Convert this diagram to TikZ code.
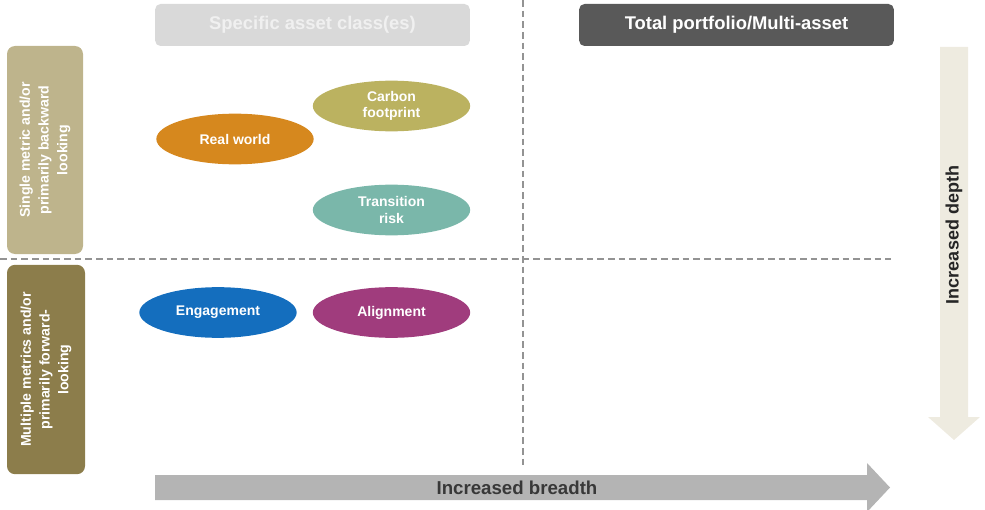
\documentclass[tikz,border=0pt]{standalone}
\usepackage{fontspec}
\setmainfont{Liberation Sans}
\usetikzlibrary{shapes.geometric}
\definecolor{hdLight}{HTML}{D9D9D9}
\definecolor{hdDark}{HTML}{595959}
\definecolor{rowTop}{HTML}{BEB48C}
\definecolor{rowBot}{HTML}{8C7D4B}
\definecolor{myOrange}{HTML}{D6881E}
\definecolor{myOlive}{HTML}{BBB260}
\definecolor{myTeal}{HTML}{7AB7AA}
\definecolor{myBlue}{HTML}{146EBE}
\definecolor{myPlum}{HTML}{A03C7D}
\definecolor{arrGray}{HTML}{B4B4B4}
\definecolor{arrBeige}{HTML}{EEEBE0}

\begin{document}
\begin{tikzpicture}[x = 0.75pt, y = -0.75pt,
		hd/.style = {rounded corners = 4pt, minimum width = 236pt, minimum height = 31.5pt, inner sep = 0pt, font = \fontsize{13.8}{15}\selectfont\bfseries},
		row/.style = {rounded corners = 6pt, rotate = 90, align = center, inner sep = 0pt, text = white, minimum width = 156pt, minimum height = 57pt, font = \fontsize{10.6}{14}\selectfont\bfseries},
		blob/.style = {ellipse, minimum width = 118pt, minimum height = 38pt, inner sep = 0pt, align = center, text = white, font = \fontsize{10.5}{12.5}\selectfont\bfseries},
		grid/.style = {gray!85, line width = 0.8pt, dash pattern = on 5pt off 3pt}]
		\useasboundingbox (0, 0) rectangle (985, 510);
		%%%%%%%%%%%%%
		\draw [grid] (523, 0) -- (523, 466);
		\draw [grid] (0, 259) -- (891, 259);
		%%%%%%%%%%%%%
		\node [hd, fill = hdLight, text = white!94!black] (hA) at (312.5, 25) {Specific asset class(es)};
		\node [hd, fill = hdDark, text = white] (hB) at (736.5, 25) {Total portfolio/Multi-asset};
		\node [row, fill = rowTop] (rA) at (45, 150) {Single metric and/or\\primarily backward\\looking};
		\node [row, fill = rowBot, minimum width = 157pt, minimum height = 58.5pt] (rB) at (46, 369.5) {Multiple metrics and/or\\primarily forward-\\looking};
		%%%%%%%%%%%%%
		\node [blob, fill = myOrange] (e1) at (235, 139) {Real world};
		\node [blob, fill = myOlive] (e2) at (391.5, 106) {Carbon\\footprint};
		\node [blob, fill = myTeal] (e3) at (391.5, 210) {Transition\\risk};
		\node [blob, fill = myBlue] (e4) at (218, 312.5) {Engagement};
		\node [blob, fill = myPlum] (e5) at (391.5, 312.5) {Alignment};
		%%%%%%%%%%%%%
		\fill [arrGray] (155, 475) -- (867, 475) -- (867, 463) -- (890, 487.5) -- (867, 512) -- (867, 500) -- (155, 500) -- cycle;
		\node [text = black!78, font = \fontsize{14}{16}\selectfont\bfseries] (br) at (517, 487.5) {Increased breadth};
		\fill [arrBeige] (940, 47) -- (968, 47) -- (968, 417) -- (980, 417) -- (954, 440) -- (928, 417) -- (940, 417) -- cycle;
		\node [rotate = 90, text = black!85, font = \fontsize{13.5}{15}\selectfont\bfseries] (dp) at (954, 235) {Increased depth};
\end{tikzpicture}
\end{document}
